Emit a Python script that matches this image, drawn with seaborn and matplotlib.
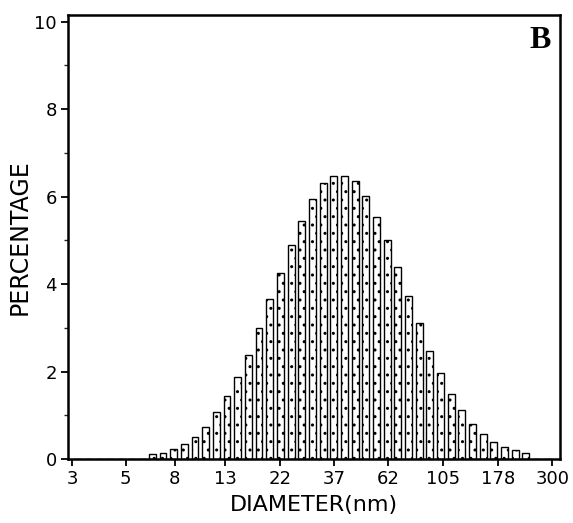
import numpy as np
import pandas as pd
import matplotlib
matplotlib.use("Agg")
import matplotlib.pyplot as plt
import seaborn as sns
from matplotlib.ticker import NullLocator, MultipleLocator

# ---- data ----
# 45 logarithmic bins from 3 to 300 nm; occupied bins 7..42
first_bin = 7
percentages = [0.11, 0.14, 0.23,
               0.34, 0.51, 0.74, 1.08, 1.43,
               1.88, 2.37, 3.00, 3.65, 4.25,
               4.90, 5.45, 5.95, 6.30, 6.48,
               6.48, 6.35, 6.02, 5.54, 5.00,
               4.39, 3.72, 3.10, 2.47, 1.96,
               1.48, 1.12, 0.81, 0.57, 0.38,
               0.27, 0.20, 0.13]
n_bins = 45
d_min, d_max = 3, 300
xtick_values = [3, 5, 8, 13, 22, 37, 62, 105, 178, 300]
xtick_labels = ["3", "5", "8", "13", "22", "37", "62", "105", "178", "300"]
yticks = [0, 2, 4, 6, 8, 10]

# bin centres (geometric) for each occupied bin
edges = np.geomspace(d_min, d_max, n_bins + 1)
idx = np.arange(first_bin, first_bin + len(percentages))
centres = np.sqrt(edges[idx] * edges[idx + 1])
df = pd.DataFrame({"diameter": centres, "percentage": percentages})

sns.set_style("ticks")
plt.rcParams["font.family"] = ["DejaVu Sans"]

fig = plt.figure(figsize=(5.73, 5.23), dpi=100)
ax = fig.add_axes([0.1187, 0.1224, 0.977 - 0.1187, 0.9713 - 0.1224])

sns.histplot(data=df, x="diameter", weights="percentage", log_scale=True,
             bins=n_bins, binrange=(np.log10(d_min), np.log10(d_max)),
             shrink=0.64, color="white", alpha=1, edgecolor="black",
             linewidth=1.0, hatch="..", ax=ax)

ax.set_xlim(2.88, 322)
ax.set_ylim(0, 10.15)
ax.xaxis.set_minor_locator(NullLocator())
ax.set_xticks(xtick_values)
ax.set_xticklabels(xtick_labels)
ax.set_yticks(yticks)
ax.set_yticklabels([str(v) for v in yticks])
ax.yaxis.set_minor_locator(MultipleLocator(1))

ax.tick_params(axis="both", which="major", direction="out", length=5,
               width=1.3, labelsize=13, colors="black", pad=3)
ax.tick_params(axis="y", which="minor", direction="out", length=3, width=1.0)

for s in ax.spines.values():
    s.set_visible(True)
    s.set_linewidth(1.8)
    s.set_color("black")

ax.set_xlabel("DIAMETER(nm)", fontsize=16, labelpad=5, color="black")
ax.set_ylabel("PERCENTAGE", fontsize=17, labelpad=2, color="black")

ax.text(0.982, 0.975, "B", transform=ax.transAxes, ha="right", va="top",
        fontsize=23, fontweight="bold", color="black",
        family=["Liberation Serif", "DejaVu Serif"])

fig.savefig("out.png", dpi=100)
